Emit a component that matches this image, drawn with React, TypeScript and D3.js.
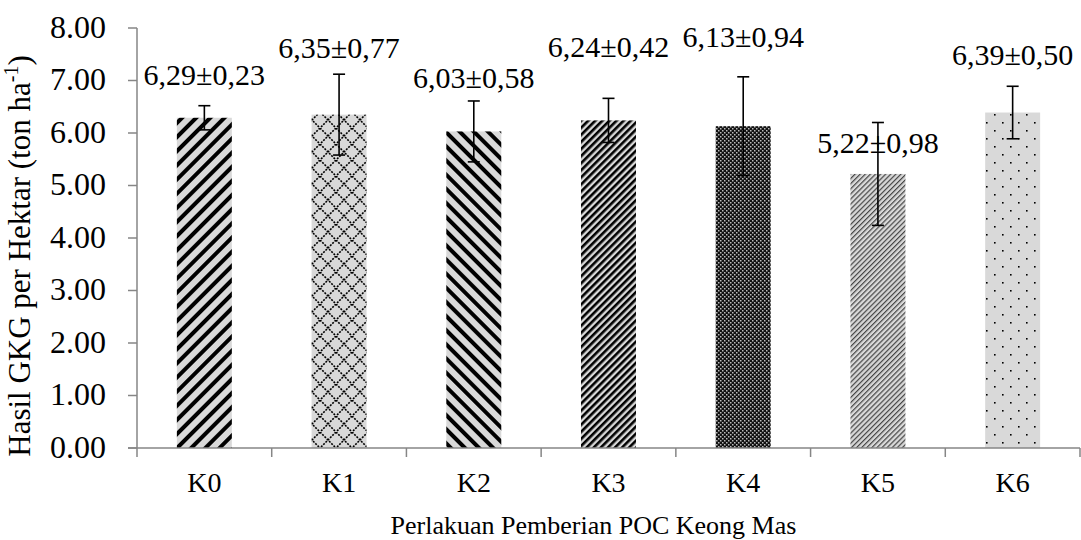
import React from "react";
import * as d3 from "d3";

// ── Data ──────────────────────────────────────────────────────────────────────

const categories = ["K0", "K1", "K2", "K3", "K4", "K5", "K6"];
const means = [6.29, 6.35, 6.03, 6.24, 6.13, 5.22, 6.39];
const errors = [0.23, 0.77, 0.58, 0.42, 0.94, 0.98, 0.5];
// where the value labels sit (axis units)
const labelLevels = [7.1, 7.62, 7.05, 7.64, 7.83, 5.81, 7.48];
const yTicks = [0, 1, 2, 3, 4, 5, 6, 7, 8];

// ── Layout ────────────────────────────────────────────────────────────────────

const W = 1081;
const H = 540;
const X0 = 137;
const X1 = 1080;
const Y0 = 448;
const Y1 = 28;
const FONT = "Liberation Serif, Times New Roman, DejaVu Serif, serif";
const AXIS = "#868686";
const GRAY = "#d9d9d9";

const x = d3.scaleBand<string>().domain(categories).range([X0, X1]).paddingInner(0).paddingOuter(0);
const y = d3.scaleLinear().domain([0, 8]).range([Y0, Y1]);
const BAR_W = x.bandwidth() / 2.45;
const CAP = 12;

const fmt = (v: number) => v.toFixed(2).replace(".", ",");
const mid = (c: string) => (x(c) ?? 0) + x.bandwidth() / 2;

function Patterns() {
  return (
    <defs>
      <pattern id="p0" width={10} height={10} patternUnits="userSpaceOnUse" patternTransform="rotate(45)">
        <rect width={10} height={10} fill={GRAY} />
        <rect width={4} height={10} fill="#000" />
      </pattern>
      <pattern id="p1" width={16} height={16} patternUnits="userSpaceOnUse">
        <rect width={16} height={16} fill={GRAY} />
        <path d="M0,0L16,16M16,0L0,16" stroke="#000" strokeWidth={1.6} strokeDasharray="2,1.2" />
      </pattern>
      <pattern id="p2" width={10} height={10} patternUnits="userSpaceOnUse" patternTransform="rotate(-45)">
        <rect width={10} height={10} fill={GRAY} />
        <rect width={4} height={10} fill="#000" />
      </pattern>
      <pattern id="p3" width={5} height={5} patternUnits="userSpaceOnUse" patternTransform="rotate(45)">
        <rect width={5} height={5} fill={GRAY} />
        <rect width={2.6} height={5} fill="#000" />
      </pattern>
      <pattern id="p4" width={4} height={4} patternUnits="userSpaceOnUse">
        <rect width={4} height={4} fill="#111" />
        <rect x={0} y={0} width={1.5} height={1.5} fill="#bbb" />
        <rect x={2} y={2} width={1.5} height={1.5} fill="#bbb" />
      </pattern>
      <pattern id="p5" width={3.6} height={3.6} patternUnits="userSpaceOnUse" patternTransform="rotate(45)">
        <rect width={3.6} height={3.6} fill={GRAY} />
        <rect width={1.2} height={3.6} fill="#444" />
      </pattern>
      <pattern id="p6" width={16} height={16} patternUnits="userSpaceOnUse">
        <rect width={16} height={16} fill={GRAY} />
        <rect x={2} y={2} width={1.6} height={1.6} fill="#000" />
        <rect x={10} y={10} width={1.6} height={1.6} fill="#000" />
      </pattern>
    </defs>
  );
}

export default function App() {
  return (
    <svg
      width={W}
      height={H}
      style={{ position: "absolute", left: 0, top: 0, background: "#fff", fontFamily: FONT }}
    >
      <Patterns />

      {/* bars */}
      {categories.map((c, i) => (
        <rect
          key={c}
          x={mid(c) - BAR_W / 2}
          y={y(means[i])}
          width={BAR_W}
          height={y(0) - y(means[i])}
          fill={`url(#p${i})`}
        />
      ))}

      {/* axes */}
      <line x1={X0} x2={X0} y1={Y1} y2={Y0} stroke={AXIS} strokeWidth={1.5} />
      <line x1={X0 - 9} x2={X1} y1={Y0} y2={Y0} stroke={AXIS} strokeWidth={1.5} />
      {yTicks.map((t) => (
        <g key={t}>
          <line x1={X0 - 9} x2={X0} y1={y(t)} y2={y(t)} stroke={AXIS} strokeWidth={1.5} />
          <text x={X0 - 31} y={y(t)} dy="0.3em" textAnchor="end" fontSize={32} fill="#000">
            {t.toFixed(2)}
          </text>
        </g>
      ))}
      {categories.map((c) => (
        <line key={c} x1={(x(c) ?? 0) + x.bandwidth()} x2={(x(c) ?? 0) + x.bandwidth()} y1={Y0} y2={Y0 + 9} stroke={AXIS} strokeWidth={1.5} />
      ))}
      <line x1={X0} x2={X0} y1={Y0} y2={Y0 + 9} stroke={AXIS} strokeWidth={1.5} />

      {/* error bars */}
      {categories.map((c, i) => {
        const cx = mid(c);
        const top = y(means[i] + errors[i]);
        const bot = y(means[i] - errors[i]);
        return (
          <g key={c} stroke="#000" strokeWidth={1.6}>
            <line x1={cx} x2={cx} y1={top} y2={bot} />
            <line x1={cx - CAP / 2} x2={cx + CAP / 2} y1={top} y2={top} />
            <line x1={cx - CAP / 2} x2={cx + CAP / 2} y1={bot} y2={bot} />
          </g>
        );
      })}

      {/* value labels */}
      {categories.map((c, i) => (
        <text key={c} x={mid(c)} y={y(labelLevels[i])} dy="0.33em" textAnchor="middle" fontSize={30} fill="#000">
          {`${fmt(means[i])}±${fmt(errors[i])}`}
        </text>
      ))}

      {/* category labels */}
      {categories.map((c) => (
        <text key={c} x={mid(c)} y={492} textAnchor="middle" fontSize={28} fill="#000">
          {c}
        </text>
      ))}

      <text x={(X0 + X1) / 2 - 15} y={534} textAnchor="middle" fontSize={26} fill="#000">
        Perlakuan Pemberian POC Keong Mas
      </text>
      <text transform={`translate(30,${(Y0 + Y1) / 2 + 18}) rotate(-90)`} textAnchor="middle" fontSize={31} fill="#000">
        Hasil GKG per Hektar (ton ha<tspan dy={-12} fontSize={20}>-1</tspan>
        <tspan dy={12}>)</tspan>
      </text>
    </svg>
  );
}
